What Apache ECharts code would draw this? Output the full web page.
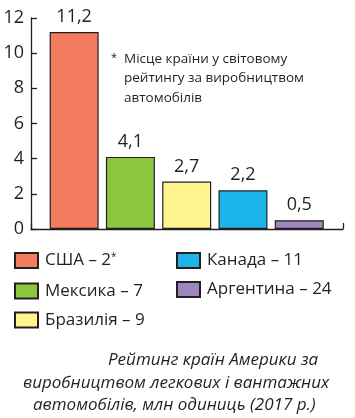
<!DOCTYPE html>
<html><head><meta charset="utf-8">
<script src="https://cdn.jsdelivr.net/npm/echarts@6/dist/echarts.min.js"></script>
<style>html,body{margin:0;padding:0;background:#fff}#c{width:355px;height:418px}</style>
</head><body><div id="c"></div>
<script>
const countries = ['США', 'Мексика', 'Бразилія', 'Канада', 'Аргентина'];
const ranks = ['2', '7', '9', '11', '24'];
const values = [11.2, 4.1, 2.7, 2.2, 0.5];
const colors = ['#F37B5E', '#8CC63F', '#FFF48E', '#1CB5EA', '#9D87BE'];
const yTicks = [0, 2, 4, 6, 8, 10, 12];
const footnote = ['Місце країни у світовому', 'рейтингу за виробництвом', 'автомобілів'];
const caption = ['Рейтинг країн Америки за', 'виробництвом легкових і вантажних', 'автомобілів, млн одиниць (2017 р.)'];

const INK = '#231f20';
const FONT = 'Open Sans';
const names = countries.map((c, i) => c + ' – ' + ranks[i] + (i === 0 ? '*' : ''));

const series = countries.map((c, i) => ({
  name: names[i],
  type: 'bar',
  stack: 'all',
  xAxisIndex: 0, yAxisIndex: 0,
  barWidth: 49,
  data: values.map((v, j) => j === i ? v : '-'),
  itemStyle: { color: colors[i], borderColor: INK, borderWidth: 1.2 },
  label: {
    show: true, position: 'top', distance: 6,
    fontFamily: FONT, fontSize: 18, color: INK,
    formatter: p => String(p.value).replace('.', ',')
  }
}));

const legendText = {
  fontFamily: FONT, fontSize: 17, color: INK, lineHeight: 16, padding: [0, 0, 0, 2],
  rich: { s: { fontFamily: FONT, fontSize: 10, color: INK, lineHeight: 16, verticalAlign: 'top', padding: [0, 0, 8, 0] } }
};
const legendFmt = n => n.endsWith('*') ? n.slice(0, -1) + '{s|*}' : n;

const chart = echarts.init(document.getElementById('c'), null, { renderer: 'canvas' });
chart.setOption({
  animation: false,
  grid: [
    { left: 46, right: 27.6, top: 18, bottom: 189 },
    { left: 31, right: 12, top: 18, bottom: 189 }
  ],
  xAxis: [
    { gridIndex: 0, type: 'category', data: countries, axisLine: { show: false }, axisTick: { show: false }, axisLabel: { show: false } },
    { gridIndex: 1, type: 'value', min: 0, max: 1, interval: 1,
      axisLine: { show: true, lineStyle: { color: INK, width: 1.3 } },
      axisTick: { show: true, inside: true, length: 6, lineStyle: { color: INK, width: 1.3 } },
      axisLabel: { show: false }, splitLine: { show: false } }
  ],
  yAxis: [
    { gridIndex: 0, type: 'value', min: 0, max: 12, interval: 2, show: false, splitLine: { show: false } },
    { gridIndex: 1, type: 'value', min: yTicks[0], max: yTicks[yTicks.length - 1], interval: yTicks[1] - yTicks[0],
      axisLine: { show: true, lineStyle: { color: INK, width: 1.3 } },
      axisTick: { show: true, inside: true, length: 6, lineStyle: { color: INK, width: 1.3 } },
      axisLabel: { fontFamily: FONT, fontSize: 18, color: INK, margin: 7 },
      splitLine: { show: false } }
  ],
  legend: [
    { data: names.slice(0, 3), orient: 'vertical', left: 14, top: 252, itemWidth: 23, itemHeight: 15, itemGap: 12,
      icon: 'rect', textStyle: legendText, formatter: legendFmt, selectedMode: false, padding: 0 },
    { data: names.slice(3), orient: 'vertical', left: 176, top: 252, itemWidth: 23, itemHeight: 15, itemGap: 12,
      icon: 'rect', textStyle: legendText, formatter: legendFmt, selectedMode: false, padding: 0 }
  ],
  graphic: [
    { type: 'text', left: 111, top: 52, style: { text: '*', fontFamily: FONT, fontSize: 11, fill: INK } },
    ...footnote.map((t, i) => ({ type: 'text', left: 124, top: 52 + i * 19.5,
      style: { text: t, fontFamily: FONT, fontSize: 13.5, fill: INK } })),
    ...caption.map((t, i) => ({ type: 'text', left: [108, 23, 33][i], top: 352 + i * 22.5,
      style: { text: t, fontFamily: FONT, fontSize: 17, fontStyle: 'italic', fill: INK } }))
  ],
  series: series
});
</script>
</body></html>
